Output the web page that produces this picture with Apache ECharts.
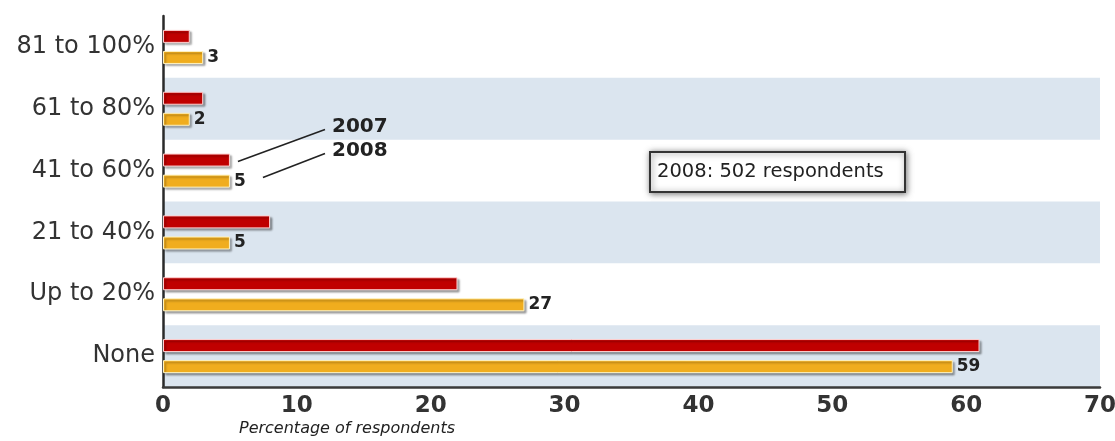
<!DOCTYPE html>
<html>
<head>
<meta charset="utf-8">
<script src="https://cdn.jsdelivr.net/npm/echarts@6/dist/echarts.min.js"></script>
<style>
html,body{margin:0;padding:0;background:#fff;}
#chart{width:1115px;height:441px;}
</style>
</head>
<body>
<div id="chart"></div>
<script>
const categories = ['81 to 100%', '61 to 80%', '41 to 60%', '21 to 40%', 'Up to 20%', 'None'];
const values2007 = [2, 3, 5, 8, 22, 61];
const values2008 = [3, 2, 5, 5, 27, 59];
const seriesNames = ['2007', '2008'];
const xTicks = [0, 10, 20, 30, 40, 50, 60, 70];
const axisTitle = 'Percentage of respondents';
const noteText = '2008: 502 respondents';

const FONT = '"DejaVu Sans", "Liberation Sans", Arial, sans-serif';
const chart = echarts.init(document.getElementById('chart'), null, {renderer: 'canvas'});

const barStyle = (color, border) => ({
  color: color,
  borderColor: border,
  borderWidth: 1,
  shadowColor: 'rgba(0,0,0,0.35)',
  shadowBlur: 2,
  shadowOffsetX: 2,
  shadowOffsetY: 2
});

const option = {
  animation: false,
  backgroundColor: '#ffffff',
  grid: {left: 163, right: 15, top: 16, bottom: 54, containLabel: false, outerBoundsMode: 'none'},
  xAxis: {
    type: 'value',
    min: xTicks[0],
    max: xTicks[xTicks.length - 1],
    interval: 10,
    axisLine: {show: true, lineStyle: {color: '#3a3a3a', width: 2.5}},
    axisTick: {show: false},
    splitLine: {show: false},
    axisLabel: {color: '#333', fontSize: 23, fontWeight: 'bold', fontFamily: FONT, margin: 8, hideOverlap: false}
  },
  yAxis: {
    type: 'category',
    inverse: true,
    data: categories,
    axisLine: {show: true, lineStyle: {color: '#2a2a2a', width: 2.5}},
    axisTick: {show: false},
    axisLabel: {color: '#333', fontSize: 24, fontFamily: FONT, margin: 8},
    splitArea: {show: true, areaStyle: {color: ['rgba(255,255,255,0)', '#dbe5ef']}}
  },
  series: [
    {
      name: seriesNames[0],
      type: 'bar',
      data: values2007,
      barWidth: 13,
      barGap: '62%',
      itemStyle: barStyle('#c00000', '#ffd0d0'),
      label: {show: false}
    },
    {
      name: seriesNames[1],
      type: 'bar',
      data: values2008,
      barWidth: 13,
      itemStyle: barStyle('#f0ad1e', '#fff3c0'),
      label: {
        show: true, position: 'right', distance: 4,
        color: '#222', fontSize: 17, fontWeight: 'bold', fontFamily: FONT
      }
    }
  ]
};
chart.setOption(option);

// annotations positioned from the data scale
const idx = 2; // '41 to 60%'
const p07 = chart.convertToPixel({gridIndex: 0}, [values2007[idx], categories[idx]]);
const p08 = chart.convertToPixel({gridIndex: 0}, [values2008[idx], categories[idx]]);
const cy = p07[1];
const labelX = 332;
chart.setOption({
  graphic: [
    {type: 'line', shape: {x1: p07[0] + 8, y1: cy - 9, x2: labelX - 7, y2: cy - 41}, style: {stroke: '#222', lineWidth: 1.6}},
    {type: 'line', shape: {x1: p08[0] + 33, y1: cy + 7, x2: labelX - 7, y2: cy - 17}, style: {stroke: '#222', lineWidth: 1.6}},
    {type: 'text', x: labelX, y: cy - 44, style: {text: seriesNames[0], font: 'bold 20px ' + FONT, fill: '#222', verticalAlign: 'middle'}},
    {type: 'text', x: labelX, y: cy - 20, style: {text: seriesNames[1], font: 'bold 20px ' + FONT, fill: '#222', verticalAlign: 'middle'}},
    {type: 'rect', shape: {x: 650, y: 152, width: 255, height: 40},
      style: {fill: '#fff', stroke: '#333', lineWidth: 2, shadowColor: 'rgba(0,0,0,0.5)', shadowBlur: 6, shadowOffsetX: 1, shadowOffsetY: 1}},
    {type: 'text', x: 657, y: 172, style: {text: noteText, font: '19.5px ' + FONT, fill: '#222', verticalAlign: 'middle'}},
    {type: 'text', x: 239, y: 429, style: {text: axisTitle, font: 'italic 16px ' + FONT, fill: '#222', verticalAlign: 'middle'}}
  ]
});
</script>
</body>
</html>
